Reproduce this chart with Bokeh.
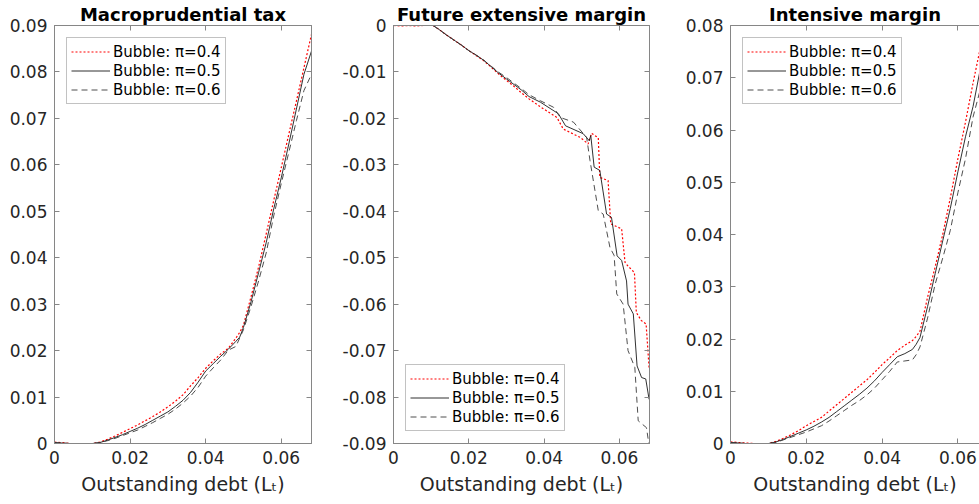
from bokeh.plotting import figure
from bokeh.layouts import row
from bokeh.models import Range1d, FixedTicker, LinearAxis
from bokeh.embed import file_html
from bokeh.resources import INLINE

# outstanding debt grid used by the tax and intensive margin panels
debt = [0, 0.002, 0.004, 0.006, 0.008, 0.010, 0.012, 0.014, 0.016, 0.018,
        0.020, 0.022, 0.024, 0.026, 0.028, 0.030, 0.032, 0.034, 0.036, 0.038,
        0.040, 0.042, 0.044, 0.046, 0.048, 0.049, 0.050, 0.052, 0.054, 0.056,
        0.058, 0.060, 0.062, 0.064, 0.066, 0.068]

tax_04 = [0.0003, 0.0002, 0.0000, 0.0000, -0.0001, 0.0000, 0.0003, 0.0009, 0.0016, 0.0024,
          0.0032, 0.0040, 0.0049, 0.0058, 0.0068, 0.0079, 0.0091, 0.0105, 0.0124, 0.0142,
          0.0162, 0.0178, 0.0193, 0.0205, 0.0227, 0.0239, 0.0255, 0.0316, 0.0380, 0.0451,
          0.0523, 0.0594, 0.0666, 0.0737, 0.0809, 0.0881]
tax_05 = [0.0002, 0.0001, 0.0000, 0.0000, -0.0001, 0.0000, 0.0002, 0.0007, 0.0013, 0.0019,
          0.0026, 0.0033, 0.0041, 0.0050, 0.0059, 0.0068, 0.0080, 0.0093, 0.0110, 0.0132,
          0.0156, 0.0172, 0.0188, 0.0203, 0.0220, 0.0229, 0.0250, 0.0305, 0.0368, 0.0432,
          0.0505, 0.0572, 0.0645, 0.0720, 0.0795, 0.0845]
tax_06 = [0.0002, 0.0001, 0.0000, 0.0000, -0.0001, 0.0000, 0.0002, 0.0006, 0.0011, 0.0017,
          0.0023, 0.0029, 0.0037, 0.0045, 0.0054, 0.0063, 0.0074, 0.0087, 0.0102, 0.0121,
          0.0145, 0.0163, 0.0180, 0.0201, 0.0209, 0.0227, 0.0245, 0.0295, 0.0350, 0.0410,
          0.0490, 0.0560, 0.0627, 0.0695, 0.0760, 0.0795]

int_04 = [0.0003, 0.0002, 0.0001, 0.0000, 0.0000, 0.0000, 0.0004, 0.0010, 0.0017, 0.0025,
          0.0034, 0.0042, 0.0050, 0.0062, 0.0074, 0.0086, 0.0098, 0.0110, 0.0122, 0.0136,
          0.0151, 0.0164, 0.0178, 0.0188, 0.0197, 0.0205, 0.0215, 0.0280, 0.0338, 0.0400,
          0.0470, 0.0545, 0.0615, 0.0690, 0.0760, 0.0830]
int_05 = [0.0002, 0.0001, 0.0000, 0.0000, -0.0001, 0.0000, 0.0003, 0.0008, 0.0014, 0.0020,
          0.0026, 0.0033, 0.0041, 0.0050, 0.0061, 0.0072, 0.0083, 0.0094, 0.0106, 0.0120,
          0.0136, 0.0151, 0.0166, 0.0172, 0.0180, 0.0190, 0.0203, 0.0262, 0.0325, 0.0388,
          0.0450, 0.0520, 0.0587, 0.0645, 0.0720, 0.0790]
int_06 = [0.0002, 0.0001, 0.0000, 0.0000, -0.0001, 0.0000, 0.0002, 0.0007, 0.0012, 0.0017,
          0.0022, 0.0028, 0.0034, 0.0043, 0.0053, 0.0063, 0.0073, 0.0082, 0.0093, 0.0106,
          0.0122, 0.0138, 0.0156, 0.0158, 0.0160, 0.0170, 0.0185, 0.0240, 0.0305, 0.0355,
          0.0408, 0.0480, 0.0545, 0.0625, 0.0680, 0.0740]

# future extensive margin has its own steps, so each series keeps its own x
ext_x04 = [0, 0.002, 0.004, 0.006, 0.008, 0.0105, 0.012, 0.014, 0.016, 0.018, 0.020, 0.022,
           0.024, 0.026, 0.028, 0.030, 0.032, 0.034, 0.036, 0.039, 0.0434, 0.0451, 0.0496,
           0.0517, 0.0526, 0.0544, 0.0548, 0.0570, 0.0577, 0.0606, 0.0615, 0.0623, 0.0640,
           0.0645, 0.0658, 0.0671, 0.0679]
ext_y04 = [0, -0.0001, 0, -0.0001, 0, 0, -0.0008, -0.0020, -0.0031, -0.0042, -0.0054, -0.0065,
           -0.0076, -0.0090, -0.0105, -0.0118, -0.0131, -0.0145, -0.0158, -0.0175, -0.0198,
           -0.0223, -0.0241, -0.0255, -0.0232, -0.0242, -0.0327, -0.0334, -0.0427, -0.0438,
           -0.0510, -0.0518, -0.0532, -0.0618, -0.0635, -0.0643, -0.0738]
ext_x05 = [0, 0.002, 0.004, 0.006, 0.008, 0.0105, 0.012, 0.014, 0.016, 0.018, 0.020, 0.022,
           0.024, 0.026, 0.028, 0.030, 0.032, 0.034, 0.036, 0.039, 0.0438, 0.0457, 0.0504,
           0.0520, 0.0524, 0.0533, 0.0548, 0.0566, 0.0579, 0.0594, 0.0606, 0.0619, 0.0623,
           0.0637, 0.0647, 0.0659, 0.0670, 0.0679]
ext_y05 = [0, 0, 0, 0, 0, 0, -0.0008, -0.0020, -0.0031, -0.0042, -0.0054, -0.0064,
           -0.0075, -0.0089, -0.0103, -0.0115, -0.0127, -0.0139, -0.0153, -0.0165, -0.0190,
           -0.0216, -0.0233, -0.0248, -0.0237, -0.0305, -0.0312, -0.0406, -0.0413, -0.0496,
           -0.0506, -0.0550, -0.0600, -0.0621, -0.0733, -0.0758, -0.0761, -0.0805]
ext_x06 = [0, 0.002, 0.004, 0.006, 0.008, 0.0105, 0.012, 0.014, 0.016, 0.018, 0.020, 0.022,
           0.024, 0.026, 0.028, 0.030, 0.032, 0.034, 0.036, 0.039, 0.0425, 0.0443, 0.0478,
           0.0513, 0.0522, 0.0544, 0.0557, 0.0575, 0.0586, 0.0593, 0.0610, 0.0623, 0.0641,
           0.0650, 0.0672, 0.0679]
ext_y06 = [0, 0, 0, 0, 0, 0, -0.0008, -0.0020, -0.0031, -0.0042, -0.0054, -0.0064,
           -0.0075, -0.0088, -0.0101, -0.0112, -0.0124, -0.0136, -0.0149, -0.0162, -0.0176,
           -0.0198, -0.0208, -0.0241, -0.0291, -0.0399, -0.0406, -0.0478, -0.0495, -0.0578,
           -0.0600, -0.0700, -0.0736, -0.0851, -0.0866, -0.0905]

labels = ["Bubble: π=0.4", "Bubble: π=0.5", "Bubble: π=0.6"]

x_ticks = [0, 0.02, 0.04, 0.06]
x_tick_labels = ["0", "0.02", "0.04", "0.06"]
tax_ticks = [0, 0.01, 0.02, 0.03, 0.04, 0.05, 0.06, 0.07, 0.08, 0.09]
tax_tick_labels = ["0", "0.01", "0.02", "0.03", "0.04", "0.05", "0.06", "0.07", "0.08", "0.09"]
ext_ticks = [0, -0.01, -0.02, -0.03, -0.04, -0.05, -0.06, -0.07, -0.08, -0.09]
ext_tick_labels = ["0", "-0.01", "-0.02", "-0.03", "-0.04", "-0.05", "-0.06", "-0.07", "-0.08", "-0.09"]
int_ticks = [0, 0.01, 0.02, 0.03, 0.04, 0.05, 0.06, 0.07, 0.08]
int_tick_labels = ["0", "0.01", "0.02", "0.03", "0.04", "0.05", "0.06", "0.07", "0.08"]

GRAY = "#868686"
TEXT = "#262626"
FONT = "DejaVu Sans"
LINES = [("#ff0000", "2 2", 1.2), ("#1a1a1a", "solid", 0.9), ("#3a3a3a", "6 4", 0.9)]


def box_axis(ticks):
    # axis without labels, only for the inward ticks on the top / right of the box
    return LinearAxis(ticker=FixedTicker(ticks=ticks), major_label_text_font_size="1px",
                      major_label_text_color=None, major_label_standoff=0,
                      major_tick_in=5, major_tick_out=0, minor_tick_line_color=None,
                      axis_line_color=GRAY, major_tick_line_color=GRAY)


def panel(title, curves, y_lo, y_hi, y_ticks, y_labels, x_end, width, left, right,
          legend_loc, box_right=True):
    p = figure(width=width, height=504, title=title, output_backend="svg",
               toolbar_location=None, x_range=Range1d(0, x_end), y_range=Range1d(y_lo, y_hi),
               min_border_left=left, min_border_right=right, min_border_top=25,
               min_border_bottom=61)
    p.title.text_font = FONT
    p.title.text_font_size = "18px"
    p.title.text_font_style = "bold"
    p.title.text_color = "black"
    p.title.align = "center"
    p.title.standoff = 2
    p.grid.visible = False
    p.outline_line_color = GRAY if box_right else None

    for (xs, ys), lab, (col, dash, lw) in zip(curves, labels, LINES):
        p.line(xs, ys, line_color=col, line_dash=dash, line_width=lw, legend_label=lab)

    for ax, ticks, tlabs in ((p.xaxis, x_ticks, x_tick_labels), (p.yaxis, y_ticks, y_labels)):
        ax.ticker = FixedTicker(ticks=ticks)
        ax.major_label_overrides = dict(zip(ticks, tlabs))
        ax.major_tick_in = 5
        ax.major_tick_out = 0
        ax.minor_tick_line_color = None
        ax.axis_line_color = GRAY
        ax.major_tick_line_color = GRAY
        ax.major_label_text_font = FONT
        ax.major_label_text_font_size = "17px"
        ax.major_label_text_color = TEXT
        ax.major_label_standoff = 7
    p.xaxis.axis_label = "Outstanding debt (Lₜ)"
    p.xaxis.axis_label_text_font = FONT
    p.xaxis.axis_label_text_font_size = "19px"
    p.xaxis.axis_label_text_font_style = "normal"
    p.xaxis.axis_label_text_color = TEXT
    p.xaxis.axis_label_standoff = 6

    p.add_layout(box_axis(x_ticks), "above")
    if box_right:
        p.add_layout(box_axis(y_ticks), "right")

    lg = p.legend[0]
    lg.location = legend_loc
    lg.margin = 12
    lg.padding = 4
    lg.spacing = 0
    lg.glyph_width = 39
    lg.glyph_height = 19
    lg.label_height = 19
    lg.label_standoff = 3
    lg.label_text_font = FONT
    lg.label_text_font_size = "15px"
    lg.label_text_color = "black"
    lg.border_line_color = GRAY
    lg.border_line_width = 1
    lg.background_fill_alpha = 1.0
    return p


p1 = panel("Macroprudential tax", [(debt, tax_04), (debt, tax_05), (debt, tax_06)],
           0, 0.09, tax_ticks, tax_tick_labels, 0.068, 321, 54, 10, "top_left")
p2 = panel("Future extensive margin",
           [(ext_x04, ext_y04), (ext_x05, ext_y05), (ext_x06, ext_y06)],
           -0.09, 0, ext_ticks, ext_tick_labels, 0.068, 338, 72, 10, "bottom_left")
# the right panel is cut by the window edge, as in the original
p3 = panel("Intensive margin", [(debt, int_04), (debt, int_05), (debt, int_06)],
           0, 0.08, int_ticks, int_tick_labels, 0.0657, 320, 71, 0, "top_left",
           box_right=False)

p = row(p1, p2, p3)
open("out.html", "w").write(file_html(p, INLINE))
